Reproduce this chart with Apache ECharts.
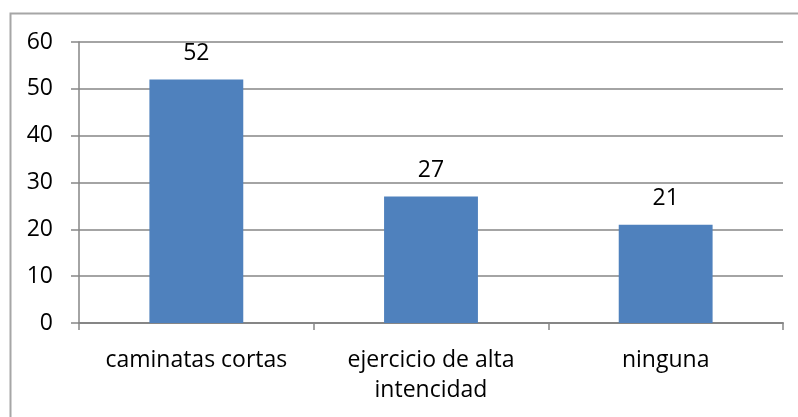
<!DOCTYPE html>
<html><head><meta charset="utf-8">
<script src="https://cdn.jsdelivr.net/npm/echarts@6/dist/echarts.min.js"></script>
<style>html,body{margin:0;padding:0;background:#fff}#c{width:798px;height:417px}</style>
</head><body><div id="c"></div>
<script>
const categories = ['caminatas cortas', 'ejercicio de alta\nintencidad', 'ninguna'];
const values = [52, 27, 21];
const yTicks = [0, 10, 20, 30, 40, 50, 60];

const chart = echarts.init(document.getElementById('c'), null, {renderer: 'canvas'});
const font = '"Open Sans", Lato, sans-serif';
chart.setOption({
  animation: false,
  backgroundColor: '#fff',
  graphic: [{
    type: 'polyline',
    shape: {points: [[10.5, 430], [10.5, 13.5], [810, 13.5]]},
    style: {stroke: '#a6a6a6', lineWidth: 2, fill: null},
    silent: true
  }],
  grid: {left: 79, right: 15, top: 42, bottom: 94, containLabel: false},
  xAxis: {
    type: 'category',
    data: categories,
    axisLine: {lineStyle: {color: '#868686', width: 2}},
    axisTick: {show: true, length: 7, lineStyle: {color: '#868686', width: 1.5}},
    axisLabel: {color: '#000', fontFamily: font, fontSize: 23, margin: 22, lineHeight: 30, interval: 0},
    splitLine: {show: false}
  },
  yAxis: {
    type: 'value',
    min: yTicks[0], max: yTicks[yTicks.length - 1], interval: 10,
    axisLine: {show: true, lineStyle: {color: '#868686', width: 1.5}},
    axisTick: {show: true, length: 8, lineStyle: {color: '#868686', width: 1.5}},
    axisLabel: {color: '#000', fontFamily: font, fontSize: 23, margin: 26},
    splitLine: {show: true, lineStyle: {color: '#868686', width: 1.5}}
  },
  series: [{
    type: 'bar',
    data: values,
    barWidth: '40%',
    itemStyle: {color: '#4f81bd'},
    label: {show: true, position: 'top', distance: 15, color: '#000', fontFamily: font, fontSize: 23}
  }]
});
</script></body></html>
